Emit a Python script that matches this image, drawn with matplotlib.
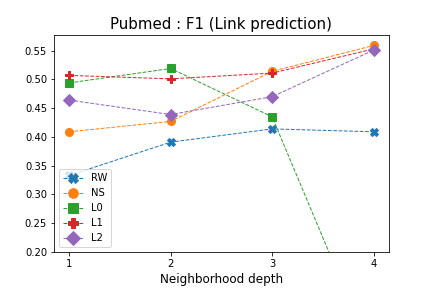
import matplotlib
matplotlib.use("Agg")
import matplotlib.pyplot as plt

depth = [1, 2, 3, 4]
series_names = ["RW", "NS", "L0", "L1", "L2"]
rw = [0.333, 0.391, 0.414, 0.409]
ns = [0.409, 0.427, 0.514, 0.559]
l0 = [0.494, 0.519, 0.435, 0.015]
l1 = [0.507, 0.501, 0.511, 0.553]
l2 = [0.464, 0.439, 0.470, 0.551]
markers = ["X", "o", "s", "P", "D"]

fig, ax = plt.subplots(figsize=(6, 4), dpi=72)
fig.subplots_adjust(left=0.125, right=0.9, top=0.88, bottom=0.125)
for name, vals, m in zip(series_names, [rw, ns, l0, l1, l2], markers):
    ax.plot(depth, vals, linestyle="--", linewidth=1, marker=m, markersize=8, label=name)

ax.set_ylim(0.2, 0.578)
ax.set_xticks(depth)
ax.set_title("Pubmed : F1 (Link prediction)", fontsize=15)
ax.set_xlabel("Neighborhood depth", fontsize=12)
ax.legend(loc="lower left", markerscale=1.2)
fig.savefig("out.png", dpi=72)
